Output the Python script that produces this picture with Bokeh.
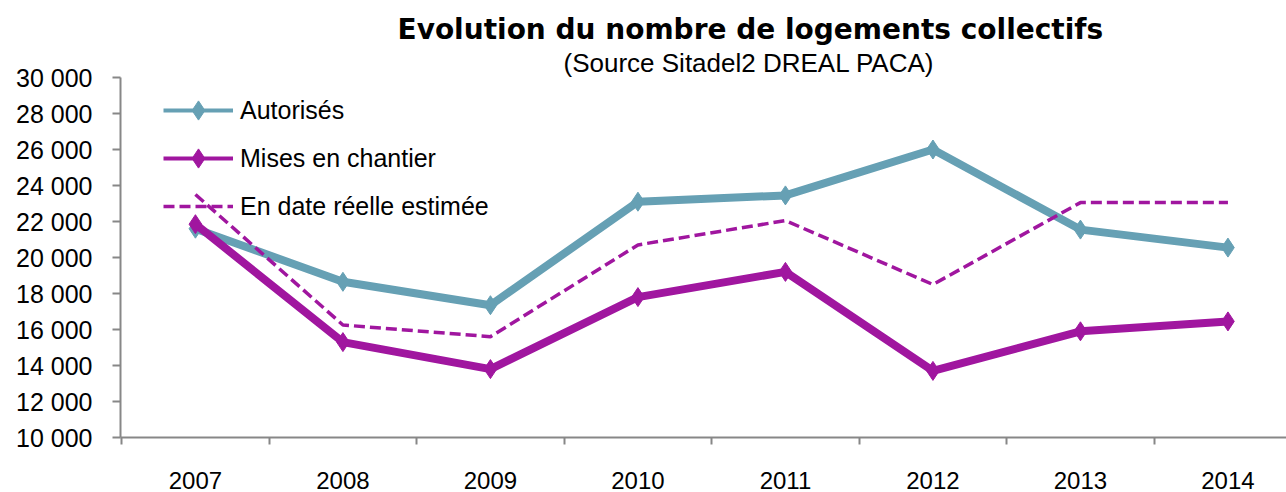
from bokeh.plotting import figure
from bokeh.models import FixedTicker, Legend, LegendItem, Title, ColumnDataSource
from bokeh.embed import file_html
from bokeh.resources import INLINE

# ---- data ----
years = ["2007", "2008", "2009", "2010", "2011", "2012", "2013", "2014"]
autorises = [21600, 18650, 17350, 23100, 23450, 26000, 21550, 20550]
mises_en_chantier = [21850, 15300, 13800, 17800, 19200, 13700, 15900, 16450]
date_reelle_estimee = [23500, 16250, 15600, 20700, 22050, 18500, 23050, 23050]
y_ticks = [10000, 12000, 14000, 16000, 18000, 20000, 22000, 24000, 26000, 28000, 30000]
y_tick_labels = ["10 000", "12 000", "14 000", "16 000", "18 000", "20 000",
                 "22 000", "24 000", "26 000", "28 000", "30 000"]
series_names = ["Autorisés", "Mises en chantier", "En date réelle estimée"]
title_text = "Evolution du nombre de logements collectifs"
subtitle_text = "(Source Sitadel2 DREAL PACA)"

TEAL = "#66A0B4"
PURPLE = "#A0169F"
AXIS = "#878787"
FONT = "Liberation Sans"
TFONT = "DejaVu Sans"
DASH = "11 5"

xs = list(range(len(years)))

p = figure(width=1286, height=492, output_backend="svg", toolbar_location=None,
           x_range=(-0.508, 7.397), y_range=(10000, 30000),
           min_border_left=120, min_border_right=0, min_border_top=77, min_border_bottom=55)
p.outline_line_color = None
p.xgrid.visible = False
p.ygrid.visible = False

src = ColumnDataSource(dict(x=xs, a=autorises, m=mises_en_chantier, e=date_reelle_estimee))

p.line("x", "a", source=src, line_color=TEAL, line_width=8, line_join="round")
p.scatter("x", "a", source=src, marker="diamond", size=19, color=TEAL)
p.line("x", "m", source=src, line_color=PURPLE, line_width=8, line_join="round")
p.scatter("x", "m", source=src, marker="diamond", size=19, color=PURPLE)
p.line("x", "e", source=src, line_color=PURPLE, line_width=3.5, line_dash=DASH)

# legend-only renderers (no visible data: thinner line as in the reference legend)
nan = float("nan")
leg_src = ColumnDataSource(dict(x=[nan], y=[nan]))
la = p.line("x", "y", source=leg_src, line_color=TEAL, line_width=4)
sa = p.scatter("x", "y", source=leg_src, marker="diamond", color=TEAL, size=20)
lm = p.line("x", "y", source=leg_src, line_color=PURPLE, line_width=4)
sm = p.scatter("x", "y", source=leg_src, marker="diamond", color=PURPLE, size=20)
le = p.line("x", "y", source=leg_src, line_color=PURPLE, line_width=3.5, line_dash=DASH)

legend = Legend(items=[LegendItem(label=series_names[0], renderers=[la, sa]),
                       LegendItem(label=series_names[1], renderers=[lm, sm]),
                       LegendItem(label=series_names[2], renderers=[le])],
                location=(43, 207), orientation="vertical",
                glyph_width=70, glyph_height=48, label_height=48, spacing=0,
                label_standoff=7, padding=0, margin=0,
                border_line_color=None, background_fill_alpha=0,
                label_text_font=FONT, label_text_font_size="25px", label_text_color="black")
p.add_layout(legend, "center")

# x axis
p.xaxis.ticker = FixedTicker(ticks=xs, minor_ticks=[i - 0.5 for i in range(len(years) + 1)])
p.xaxis.major_label_overrides = {i: y for i, y in enumerate(years)}
p.xaxis.major_tick_line_color = None
p.xaxis.major_tick_out = 0
p.xaxis.major_tick_in = 0
p.xaxis.minor_tick_out = 7
p.xaxis.minor_tick_in = 0
p.xaxis.minor_tick_line_color = AXIS
p.xaxis.minor_tick_line_width = 2
p.xaxis.major_label_standoff = 27
p.xaxis.major_label_text_font = FONT
p.xaxis.major_label_text_font_size = "24px"
p.xaxis.major_label_text_color = "black"
p.xaxis.axis_line_color = AXIS
p.xaxis.axis_line_width = 2

# y axis
p.yaxis.ticker = FixedTicker(ticks=y_ticks, minor_ticks=[])
p.yaxis.major_label_overrides = {t: l for t, l in zip(y_ticks, y_tick_labels)}
p.yaxis.major_tick_out = 8
p.yaxis.major_tick_in = 0
p.yaxis.major_tick_line_color = AXIS
p.yaxis.major_tick_line_width = 2
p.yaxis.minor_tick_line_color = None
p.yaxis.major_label_standoff = 20
p.yaxis.major_label_text_font = FONT
p.yaxis.major_label_text_font_size = "25px"
p.yaxis.major_label_text_color = "black"
p.yaxis.axis_line_color = AXIS
p.yaxis.axis_line_width = 2

# titles (subtitle first: closest to the plot frame)
p.add_layout(Title(text=subtitle_text, align="left", offset=443, standoff=0,
                   text_font=FONT, text_font_size="26px", text_font_style="normal",
                   text_color="black"), "above")
p.add_layout(Title(text=title_text, align="left", offset=277, standoff=0,
                   text_font=TFONT, text_font_size="28px", text_font_style="bold",
                   text_color="black"), "above")

open("out.html", "w").write(file_html(p, INLINE))
